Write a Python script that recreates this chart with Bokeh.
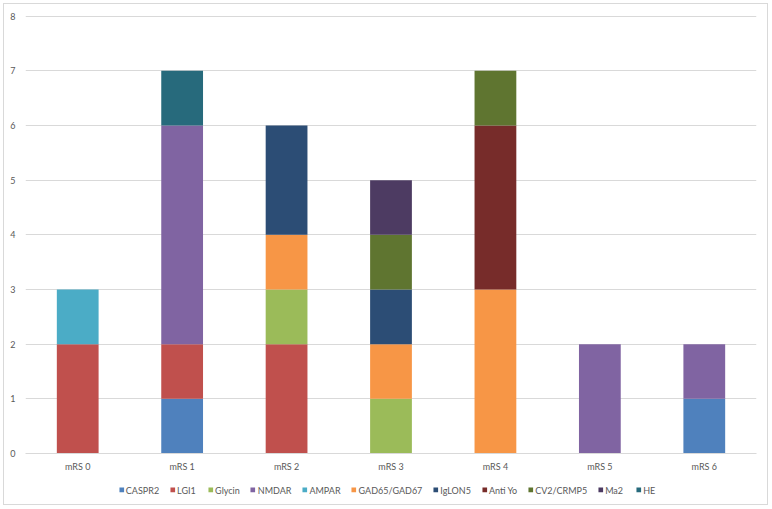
from bokeh.plotting import figure
from bokeh.layouts import column
from bokeh.models import Range1d, FactorRange, Legend, LegendItem, ColumnDataSource
from bokeh.embed import file_html
from bokeh.resources import INLINE

categories = ["mRS 0", "mRS 1", "mRS 2", "mRS 3", "mRS 4", "mRS 5", "mRS 6"]
series_names = ["CASPR2", "LGI1", "Glycin", "NMDAR", "AMPAR", "GAD65/GAD67",
                "IgLON5", "Anti Yo", "CV2/CRMP5", "Ma2", "HE"]
CASPR2 = [0, 1, 0, 0, 0, 0, 1]
LGI1 = [2, 1, 2, 0, 0, 0, 0]
Glycin = [0, 0, 1, 1, 0, 0, 0]
NMDAR = [0, 4, 0, 0, 0, 2, 1]
AMPAR = [1, 0, 0, 0, 0, 0, 0]
GAD = [0, 0, 1, 1, 3, 0, 0]
IgLON5 = [0, 0, 2, 1, 0, 0, 0]
AntiYo = [0, 0, 0, 0, 3, 0, 0]
CV2 = [0, 0, 0, 1, 1, 0, 0]
Ma2 = [0, 0, 0, 1, 0, 0, 0]
HE = [0, 1, 0, 0, 0, 0, 0]
series_values = [CASPR2, LGI1, Glycin, NMDAR, AMPAR, GAD, IgLON5, AntiYo, CV2, Ma2, HE]
colors = ["#4F81BD", "#C0504D", "#9BBB59", "#8064A2", "#4BACC6", "#F79646",
          "#2C4D75", "#772C2A", "#5F7530", "#4D3B62", "#276A7C"]
y_ticks = [0, 1, 2, 3, 4, 5, 6, 7, 8]

keys = ["s%d" % i for i in range(len(series_names))]
data = {"x": categories}
for k, v in zip(keys, series_values):
    data[k] = v
source = ColumnDataSource(data)

FONT = "Lato"
TXT = "#595959"
GRID = "#D9D9D9"
W = 763

# main chart
p = figure(width=W, height=471, x_range=FactorRange(*categories, range_padding=0),
           y_range=Range1d(0, 8.03), output_backend="svg", toolbar_location=None,
           min_border_left=21, min_border_right=11, min_border_top=10, min_border_bottom=22)

renderers = p.vbar_stack(keys, x="x", width=0.4, source=source, color=colors,
                         line_color=None)

p.outline_line_color = None
p.xgrid.grid_line_color = None
p.ygrid.grid_line_color = GRID
p.ygrid.grid_line_width = 1

p.yaxis.ticker = y_ticks
p.yaxis.axis_line_color = None
p.yaxis.major_tick_line_color = None
p.yaxis.minor_tick_line_color = None
p.yaxis.major_tick_out = 0
p.yaxis.major_tick_in = 0
p.yaxis.major_label_text_font = FONT
p.yaxis.major_label_text_font_size = "9px"
p.yaxis.major_label_text_color = TXT
p.yaxis.major_label_standoff = 10

p.xaxis.axis_line_color = GRID
p.xaxis.major_tick_line_color = None
p.xaxis.minor_tick_line_color = None
p.xaxis.major_tick_out = 0
p.xaxis.major_tick_in = 0
p.xaxis.major_label_text_font = FONT
p.xaxis.major_label_text_font_size = "9px"
p.xaxis.major_label_text_color = TXT
p.xaxis.major_label_standoff = 7

# legend strip below the chart (hidden copies of the series supply the swatches)
lg = figure(width=W, height=29, x_range=FactorRange(*categories, range_padding=0),
            y_range=Range1d(0, 8), output_backend="svg", toolbar_location=None,
            x_axis_type=None, y_axis_type=None,
            min_border=0, min_border_left=0, min_border_right=0,
            min_border_top=0, min_border_bottom=0)
lg.outline_line_color = None
lg.xgrid.visible = False
lg.ygrid.visible = False
legend_renderers = lg.vbar_stack(keys, x="x", width=0.4, source=source, color=colors,
                                 line_color=None, visible=False)
items = [LegendItem(label=n, renderers=[r]) for n, r in zip(series_names, legend_renderers)]
legend = Legend(items=items, orientation="horizontal", location="center",
                glyph_width=6, glyph_height=6, label_standoff=2, spacing=10,
                label_text_font=FONT, label_text_font_size="9px",
                label_text_color=TXT, border_line_color=None,
                background_fill_alpha=0, padding=2, margin=0, label_height=10,
                click_policy="none")
lg.add_layout(legend)

layout = column(p, lg, spacing=0,
                styles={"border": "1px solid #D9D9D9", "margin": "3px"})
open("out.html", "w").write(file_html(layout, INLINE))
